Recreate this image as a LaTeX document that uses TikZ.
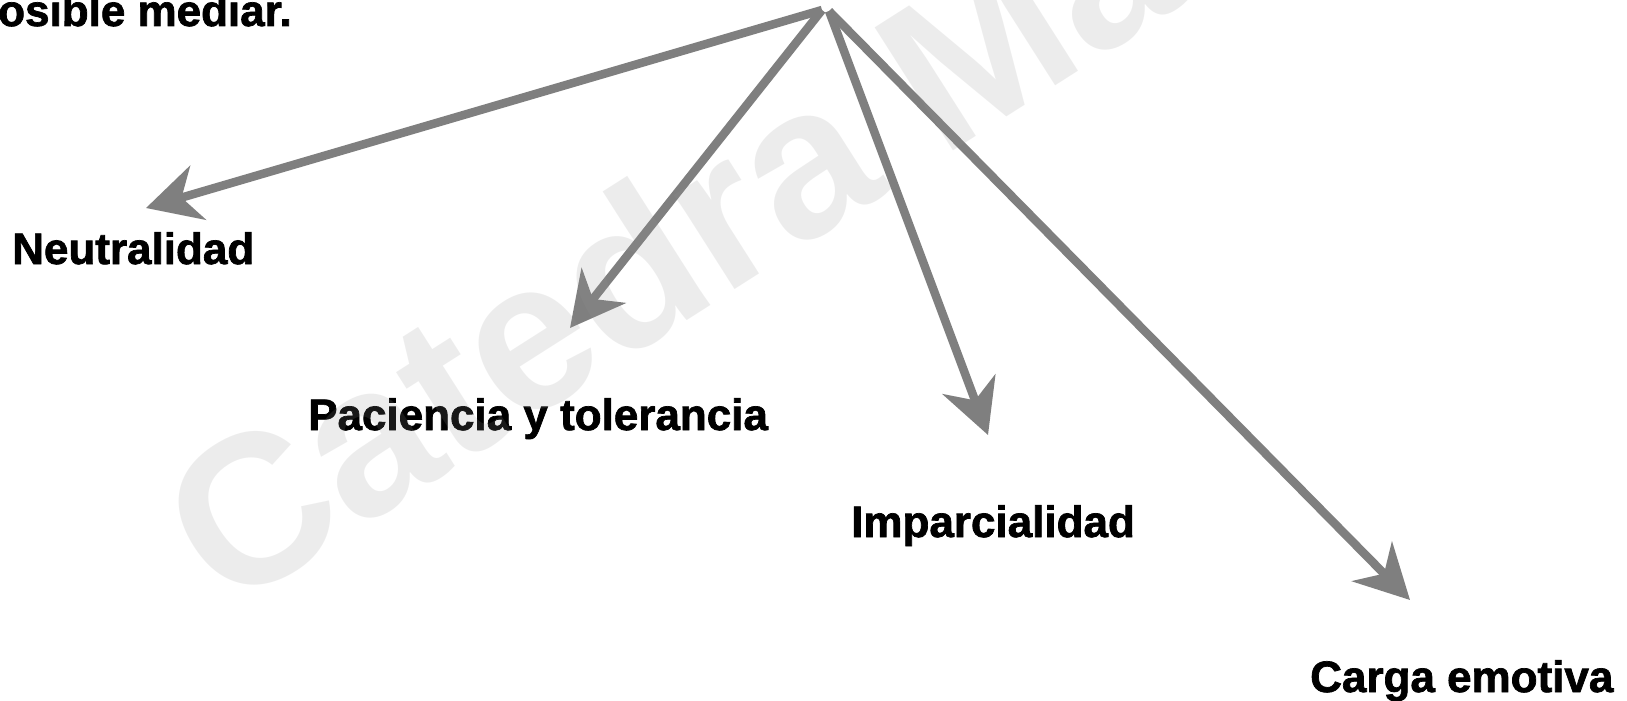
\documentclass[tikz,border=0pt]{standalone}
\usepackage{fontspec}
\setmainfont{Liberation Sans}[BoldFeatures={FakeBold=1.6}]
\newfontfamily\wmfont{Liberation Sans Bold}
\usetikzlibrary{arrows.meta}
\definecolor{arrowgray}{RGB}{127,127,127}
\definecolor{wmgray}{RGB}{147,147,147}
\begin{document}
\begin{tikzpicture}[x=1pt,y=-1pt,
  conn/.style={draw=arrowgray, line width=8.5pt, -{Stealth[length=54pt,width=56pt,inset=17pt]}},
  lbl/.style={anchor=base west, inner sep=0pt, font=\fontsize{44}{52}\selectfont\bfseries},
  wm/.style={anchor=base west, inner sep=0pt, rotate=32.5, text=wmgray, text opacity=0.17,
    font=\fontsize{212}{220}\selectfont\wmfont}]
\useasboundingbox (0,0) rectangle (1627,701);
\clip (0,0) rectangle (1627,701);
\fill[white] (0,0) rectangle (1627,701);

\node[lbl] (top) at (-2,26) {osible mediar.};

\coordinate (apexL) at (822,10);
\coordinate (apexR) at (829,11);
\coordinate (tN) at (146,208);
\coordinate (tP) at (570,328);
\coordinate (tI) at (988,435);
\coordinate (tC) at (1410,600);

\draw[conn] (apexL) -- (tN);
\draw[conn] (apexL) -- (tP);
\draw[conn] (apexR) -- (tI);
\draw[conn] (apexR) -- (tC);

\node[lbl] (neu) at (12,264) {Neutralidad};
\node[lbl] (pac) at (308,430) {Paciencia y tolerancia};
\node[lbl] (imp) at (851,537) {Imparcialidad};
\node[lbl] (car) at (1310,692) {Carga emotiva};

\node[wm] (water) at (226,614) {Catedra Ma};
\end{tikzpicture}
\end{document}
